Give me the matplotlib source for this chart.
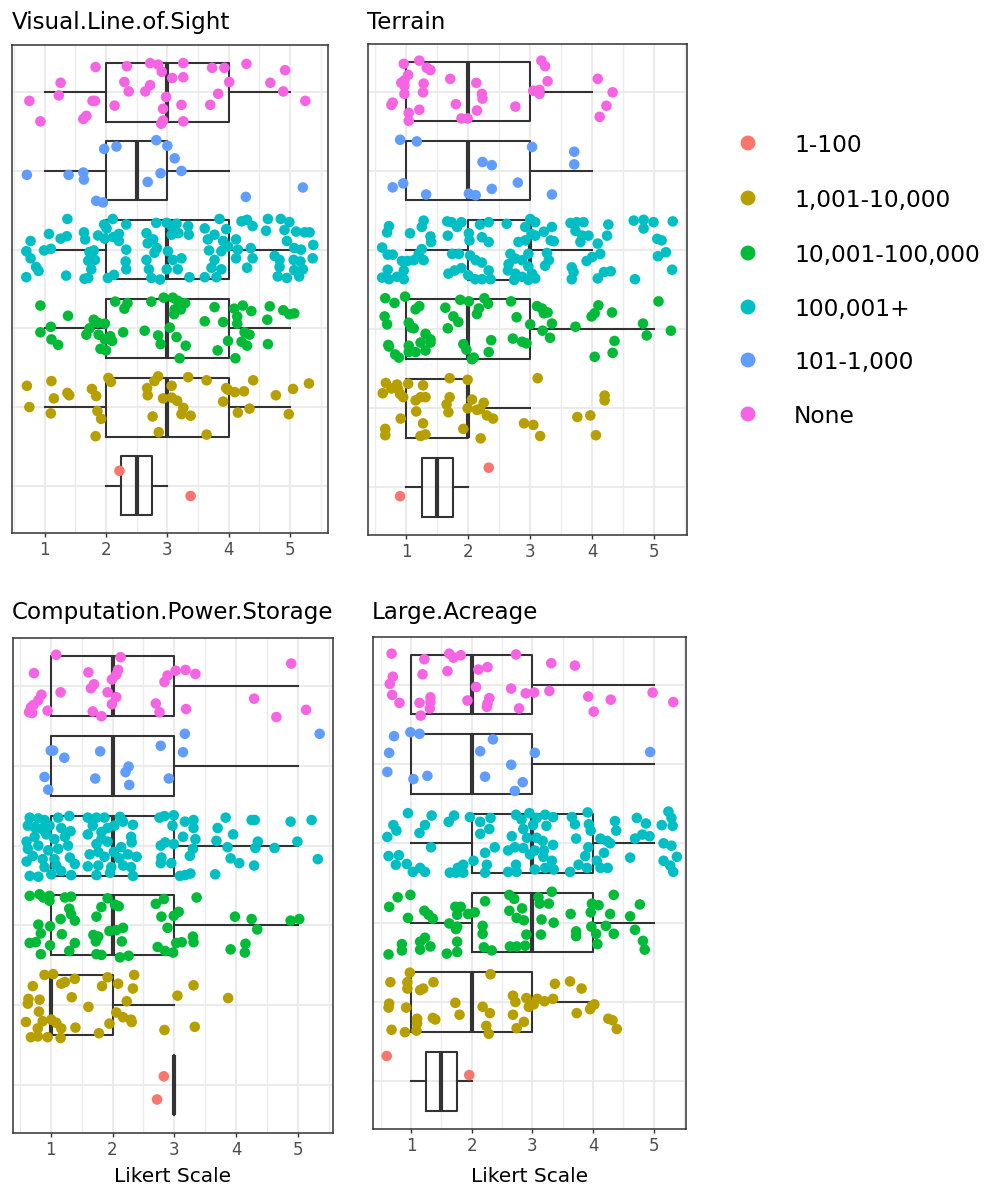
import matplotlib
matplotlib.use("Agg")
import matplotlib.pyplot as plt

W, H, DPI = 987, 1187, 100

# ---------------- data ----------------
GROUPS = ["1-100", "1,001-10,000", "10,001-100,000", "100,001+", "101-1,000", "None"]
COLORS = ["#F8766D", "#B79F00", "#00BA38", "#00BFC4", "#619CFF", "#F564E3"]
FACETS = ["Visual.Line.of.Sight", "Terrain", "Computation.Power.Storage", "Large.Acreage"]
X_TICKS = [1, 2, 3, 4, 5]
X_LABEL = "Likert Scale"

# box statistics per group (GROUPS order): [whisker low, q1, median, q3, whisker high]
VLOS_BOX = [[2, 2.25, 2.5, 2.75, 3], [1, 2, 3, 4, 5], [1, 2, 3, 4, 5], [1, 2, 3, 4, 5], [1, 2, 2.5, 3, 4], [1, 2, 3, 4, 5]]
TERR_BOX = [[1, 1.25, 1.5, 1.75, 2], [1, 1, 2, 2, 3], [1, 1, 2, 3, 5], [1, 2, 3, 3, 4], [1, 1, 2, 3, 4], [1, 1, 2, 3, 4]]
CPS_BOX = [[3, 3, 3, 3, 3], [1, 1, 1, 2, 3], [1, 1, 2, 3, 5], [1, 1, 2, 3, 5], [1, 1, 2, 3, 5], [1, 1, 2, 3, 5]]
LA_BOX = [[1, 1.25, 1.5, 1.75, 2], [1, 1, 2, 3, 4], [1, 2, 3, 4, 5], [1, 2, 3, 4, 5], [1, 1, 2, 3, 5], [1, 1, 2, 3, 5]]

# jittered points: x (Likert score + jitter) and vertical jitter around the group row
# ---- Visual.Line.of.Sight
VLOS_R1_X = [2.22, 3.38]
VLOS_R1_DY = [0.19, -0.13]
VLOS_R2_X = [0.71, 1.11, 1.15, 0.75, 1.10, 1.37, 1.40, 1.77, 1.84, 1.86, 1.92, 1.83, 2.04, 2.08, 2.67, 2.68, 2.76, 2.86,
             2.79, 2.85, 2.93, 3.07, 3.07, 3.16, 3.26, 3.23, 3.38, 3.34, 3.64, 3.64, 3.91, 3.96, 3.99, 4.10, 4.25, 4.40,
             4.15, 4.34, 4.77, 5.05, 5.31, 4.98]
VLOS_R2_DY = [0.27, 0.33, 0.11, 0.0, -0.08, 0.18, 0.15, 0.23, 0.14, -0.05, -0.15, -0.37, 0.37, 0.32, 0.24, 0.15, -0.12, -0.32,
              0.33, 0.39, 0.11, 0.27, 0.12, 0.08, -0.01, -0.09, -0.11, 0.38, 0.34, -0.35, 0.07, 0.24, 0.22, 0.19, 0.20, 0.34,
              -0.07, -0.02, 0.15, 0.23, 0.30, -0.09]
VLOS_R3_X = [0.93, 1.38, 1.10, 0.93, 1.11, 1.22, 2.15, 2.35, 2.30, 2.74, 2.94, 3.09, 3.17, 3.29, 3.12, 3.22, 3.11, 3.77,
             3.61, 3.91, 4.09, 4.23, 4.37, 4.14, 4.14, 4.67, 4.89, 4.99, 5.07, 4.63, 1.80, 1.87, 1.98, 1.73, 1.68, 1.88,
             1.98, 2.07, 2.10, 1.91, 2.00, 2.28, 2.63, 2.85, 2.89, 3.04, 3.15, 3.30, 3.20, 3.82, 3.99, 4.26, 4.34, 4.21,
             4.30, 4.64, 4.11]
VLOS_R3_DY = [0.29, 0.16, 0.02, -0.05, -0.14, -0.21, 0.34, 0.32, 0.25, 0.34, 0.39, 0.39, 0.35, 0.32, 0.24, 0.24, 0.18, 0.27,
              0.09, 0.08, 0.25, 0.29, 0.22, 0.15, 0.06, 0.28, 0.23, 0.18, 0.19, 0.11, 0.11, 0.07, 0.06, 0.0, -0.08, -0.08,
              -0.14, -0.10, -0.16, -0.26, -0.28, -0.05, -0.03, -0.09, -0.20, 0.01, -0.11, -0.22, -0.38, -0.28, -0.16, -0.05,
              -0.08, -0.17, -0.22, -0.20, -0.38]
VLOS_R4_X = [1.37, 0.77, 1.07, 1.26, 1.36, 0.70, 0.77, 0.99, 1.10, 0.86, 0.90, 0.70, 1.35,
             1.64, 1.66, 1.87, 1.97, 2.01, 2.11, 2.33, 2.12, 2.21, 2.21, 2.33, 1.73, 1.80, 1.82, 1.71, 1.76, 2.32, 2.33,
             2.03, 2.13, 1.65, 1.71, 1.98,
             2.66, 2.82, 2.68, 2.77, 2.83, 2.66, 2.79, 2.99, 3.07, 3.15, 3.34, 3.07, 3.18, 3.35, 3.01, 3.09, 3.23, 2.99,
             2.70, 2.74, 2.88, 3.17, 3.36,
             3.61, 3.85, 3.96, 3.66, 3.77, 3.91, 3.68, 3.88, 3.99, 4.12, 4.12, 4.15, 4.36, 3.77, 3.72, 3.61, 3.80, 3.88,
             4.21, 4.30, 4.39, 4.30, 4.39,
             4.64, 4.85, 4.99, 4.61, 4.91, 5.10, 5.24, 5.32, 4.95, 5.07, 5.18, 5.38, 4.75, 4.83, 5.06, 5.17, 5.37, 4.83,
             5.07, 5.21, 4.80, 4.95, 5.15]
VLOS_R4_DY = [0.39, 0.11, 0.20, 0.14, 0.17, -0.02, -0.11, -0.01, 0.01, -0.22, -0.27, -0.35, -0.33,
              0.22, 0.13, 0.18, 0.32, 0.27, 0.39, 0.32, 0.16, 0.20, 0.11, 0.0, -0.03, -0.01, -0.13, -0.14, -0.25, -0.15,
              -0.25, -0.36, -0.32, -0.37, -0.36, 0.14,
              0.21, 0.34, 0.08, 0.13, 0.02, -0.13, -0.04, 0.34, 0.30, 0.33, 0.30, 0.19, 0.21, 0.19, -0.02, -0.13, -0.11,
              -0.25, -0.25, -0.36, -0.38, -0.25, -0.35,
              0.27, 0.39, 0.26, 0.13, 0.19, 0.11, -0.01, -0.02, 0.04, 0.13, -0.11, 0.0, 0.02, -0.13, -0.23, -0.35, -0.35,
              -0.25, 0.36, 0.38, 0.30, -0.23, -0.11,
              0.39, 0.39, 0.35, 0.24, 0.25, 0.23, 0.22, 0.22, 0.11, 0.02, 0.0, 0.06, -0.08, -0.13, -0.13, -0.15, -0.11,
              -0.22, -0.26, -0.25, -0.34, -0.36, -0.34]
VLOS_R5_X = [2.82, 3.00, 1.97, 2.17, 3.12, 3.23, 2.89, 0.71, 1.39, 1.63, 1.64, 2.68, 5.21, 4.28, 1.84, 1.95]
VLOS_R5_DY = [0.39, 0.32, 0.28, 0.31, 0.16, 0.0, -0.03, -0.05, -0.05, -0.02, -0.11, -0.14, -0.21, -0.33, -0.38, -0.40]
VLOS_R6_X = [1.83, 2.34, 2.72, 2.85, 2.91, 3.26, 3.73, 3.93, 4.29, 4.92, 1.26, 2.30, 2.72, 3.08, 3.26, 4.01, 4.68, 1.23,
             0.75, 1.82, 1.78, 2.37, 2.64, 2.98, 3.83, 4.89, 5.25, 2.14, 2.93, 3.23, 3.70, 0.93, 1.63, 1.68, 2.93, 2.90,
             3.26]
VLOS_R6_DY = [0.32, 0.33, 0.37, 0.35, 0.26, 0.37, 0.31, 0.31, 0.36, 0.28, 0.12, 0.13, 0.09, 0.18, 0.19, 0.13, 0.12, -0.04,
              -0.11, -0.11, -0.11, 0.01, 0.01, -0.06, -0.02, 0.01, -0.11, -0.17, -0.21, -0.16, -0.16, -0.37, -0.34, -0.30,
              -0.36, -0.40, -0.37]

# ---- Terrain
TERR_R1_X = [2.33, 0.90]
TERR_R1_DY = [0.25, -0.11]
TERR_R2_X = [0.67, 0.62, 0.76, 0.85, 0.87, 0.90, 0.95, 1.03, 1.27, 0.91, 0.66, 0.66, 1.15, 1.23, 1.31, 1.16, 1.27, 1.23,
             1.31, 1.70, 1.70, 1.65, 1.68, 1.92, 1.99, 2.06, 1.99, 2.14, 2.19, 2.25, 2.30, 2.40, 2.20, 2.90, 3.05, 3.16,
             3.12, 3.76, 3.97, 4.20, 4.20, 4.06]
TERR_R2_DY = [0.32, 0.19, 0.25, 0.30, 0.24, 0.18, 0.14, 0.31, 0.29, -0.13, -0.26, -0.34, 0.10, 0.14, 0.14, -0.04, -0.19,
              -0.35, -0.33, 0.38, 0.14, 0.05, -0.05, -0.26, 0.36, 0.11, 0.0, -0.02, -0.01, 0.07, -0.09, -0.13, -0.38,
              -0.19, -0.21, -0.35, 0.38, -0.11, -0.09, 0.16, 0.10, -0.34]
TERR_R3_X = [0.66, 0.81, 0.98, 0.65, 0.69, 1.15, 1.21, 1.04, 1.08, 1.12, 0.71, 0.72, 0.82, 0.88, 1.04, 1.04, 1.15, 1.23,
             1.31, 1.39, 1.39, 1.31, 1.63, 1.76, 1.84, 1.67, 1.87, 2.01, 1.92, 1.97, 2.09, 2.06, 2.14, 2.17, 2.26, 2.32,
             2.37, 2.33, 2.69, 2.78, 2.72, 2.87, 2.94, 3.00, 3.11, 3.19, 3.22, 3.28, 3.35, 3.20, 3.32, 3.73, 3.99, 4.04,
             4.10, 4.32, 4.36, 4.33, 4.04, 4.82, 4.88, 5.07, 5.27]
TERR_R3_DY = [0.39, 0.33, 0.41, 0.16, 0.06, 0.25, 0.29, 0.08, 0.02, 0.01, -0.20, -0.22, -0.32, -0.36, -0.21, -0.29, -0.29,
              -0.17, -0.06, -0.13, -0.17, -0.27, 0.27, 0.16, 0.09, 0.01, 0.37, 0.35, -0.19, -0.26, -0.36, -0.38, 0.19,
              0.26, 0.39, 0.32, -0.14, -0.29, 0.35, 0.15, -0.12, -0.16, -0.18, 0.06, 0.29, 0.26, 0.20, 0.21, 0.07, -0.02,
              -0.11, 0.03, 0.16, 0.20, 0.30, 0.21, -0.15, -0.30, -0.35, 0.07, -0.08, 0.35, -0.02]
TERR_R4_X = [0.72, 0.69, 0.61, 0.70, 0.78, 0.93, 1.02, 1.12, 1.25, 1.20, 1.28, 1.06, 1.25, 1.28, 1.39, 1.40, 0.70, 0.61,
             0.72, 0.85, 0.96, 0.96,
             1.66, 1.73, 1.89, 1.82, 1.67, 2.01, 2.02, 2.19, 2.33, 2.62, 2.22, 2.33, 1.74, 1.85, 2.03, 2.12, 2.22, 1.68,
             1.78, 1.89, 2.00, 2.11, 2.22, 2.33, 2.36,
             2.81, 2.92, 3.00, 3.08, 2.92, 3.02, 3.08, 3.22, 3.35, 3.33, 3.38, 3.27, 3.30, 3.24, 2.68, 2.76, 2.65, 2.64,
             2.76, 2.87, 2.97, 2.97, 3.03, 3.08, 2.87, 2.74, 2.97,
             3.65, 3.75, 3.86, 3.73, 3.84, 3.94, 3.81, 4.26, 4.24, 4.09, 4.00, 3.91, 4.13, 3.67, 3.70, 3.67, 4.09, 4.19,
             4.30,
             4.67, 4.83, 4.99, 5.30, 4.83, 5.05, 5.12, 5.19, 5.06, 5.29, 4.69]
TERR_R4_DY = [0.30, 0.22, 0.03, -0.06, -0.06, -0.14, -0.14, -0.13, 0.01, -0.05, -0.13, 0.21, 0.29, 0.37, 0.17, 0.10, -0.25,
              -0.35, -0.37, -0.34, -0.37, -0.26,
              0.36, 0.35, 0.35, 0.29, 0.18, 0.21, 0.12, 0.32, 0.35, 0.33, 0.16, 0.10, -0.05, -0.05, -0.07, -0.13, -0.16,
              -0.30, -0.26, -0.23, -0.32, -0.37, -0.37, -0.26, -0.37,
              0.10, 0.12, 0.39, 0.35, 0.29, 0.20, 0.18, 0.23, 0.29, 0.12, 0.11, -0.04, -0.13, -0.20, -0.05, -0.11, -0.18,
              -0.26, -0.30, -0.13, -0.05, -0.21, -0.30, -0.36, -0.34, -0.38, -0.38,
              0.34, 0.35, 0.35, 0.24, 0.18, 0.18, 0.10, 0.32, 0.18, 0.08, -0.09, -0.14, -0.05, -0.22, -0.28, -0.37, -0.36,
              -0.28, -0.27,
              0.37, 0.38, 0.35, 0.36, 0.27, 0.14, 0.12, -0.03, -0.08, -0.25, -0.37]
TERR_R5_X = [0.90, 1.17, 3.03, 3.71, 3.71, 2.23, 2.38, 0.78, 0.95, 1.32, 2.01, 2.12, 2.38, 2.80, 3.35]
TERR_R5_DY = [0.39, 0.37, 0.30, 0.24, 0.08, 0.11, 0.07, -0.21, -0.16, -0.30, -0.29, -0.31, -0.23, -0.15, -0.30]
TERR_R6_X = [0.96, 1.21, 1.33, 1.39, 1.03, 0.92, 0.97, 0.97, 1.28, 1.27, 0.97, 0.78, 0.76, 1.04, 1.04, 1.21, 1.71, 1.80,
             1.89, 1.99, 2.13, 2.22, 2.23, 2.14, 2.76, 3.18, 3.24, 3.28, 3.05, 3.15, 3.15, 4.09, 4.33, 4.23, 4.12]
TERR_R6_DY = [0.35, 0.39, 0.30, 0.27, 0.21, 0.11, 0.14, 0.07, 0.10, -0.01, -0.03, -0.14, -0.17, -0.27, -0.37, -0.23, 0.16,
              -0.16, -0.34, -0.34, 0.11, -0.03, -0.09, -0.24, -0.19, 0.39, 0.32, 0.13, 0.01, 0.02, -0.03, 0.16, -0.01,
              -0.18, -0.32]

# ---- Computation.Power.Storage
CPS_R1_X = [2.83, 2.72]
CPS_R1_DY = [0.11, -0.18]
CPS_R2_X = [0.90, 1.04, 0.71, 1.17, 1.23, 1.39, 0.64, 0.63, 0.82, 1.34, 0.81, 1.61, 0.60, 0.87, 1.01, 1.09, 0.79, 0.68,
            0.79, 0.95, 1.16, 1.17, 1.40, 1.78, 1.83, 1.92, 2.09, 2.35, 2.33, 2.23, 2.06, 2.17, 2.30, 2.31, 1.95, 2.84,
            3.05, 3.31, 3.33, 3.87]
CPS_R2_DY = [0.38, 0.39, 0.24, 0.27, 0.29, 0.33, 0.08, 0.02, 0.07, 0.10, -0.08, -0.02, -0.21, -0.20, -0.18, -0.22, -0.29,
             -0.40, -0.39, -0.40, -0.41, -0.29, -0.28, -0.35, 0.24, 0.35, 0.27, 0.38, 0.21, 0.05, -0.09, -0.15, -0.18,
             -0.21, -0.23, -0.31, 0.12, 0.25, -0.27, 0.09]
CPS_R3_X = [0.66, 0.82, 0.88, 0.98, 0.98, 1.23, 1.33, 1.30, 1.33, 1.39, 1.16, 0.80, 0.99, 0.84, 1.18, 0.66, 0.76, 0.99,
            0.84, 1.30, 1.39, 1.74, 1.82, 1.92, 2.04, 2.10, 1.69, 1.77, 1.73, 1.74, 1.82, 1.95, 2.06, 2.17, 2.15, 2.12,
            2.26, 2.70, 2.83, 2.79, 2.99, 3.07, 2.89, 2.73, 2.85, 2.98, 3.03, 3.12, 3.30, 3.31, 3.36, 3.98, 4.25, 4.34,
            3.91, 4.15, 4.14, 4.88, 5.02]
CPS_R3_DY = [0.37, 0.39, 0.35, 0.37, 0.31, 0.35, 0.36, 0.21, 0.14, 0.06, 0.08, 0.01, -0.01, -0.10, -0.11, -0.22, -0.21,
             -0.25, -0.36, -0.32, -0.22, 0.11, 0.23, 0.34, 0.26, 0.24, -0.12, -0.14, -0.20, -0.36, -0.37, -0.07, -0.06,
             -0.03, -0.20, -0.40, -0.38, 0.27, 0.33, 0.11, 0.12, 0.17, -0.03, -0.27, -0.32, -0.34, -0.22, -0.21, -0.14,
             -0.21, 0.35, 0.11, 0.08, -0.05, -0.30, -0.23, -0.34, 0.06, 0.08]
CPS_R4_X = [0.66, 0.80, 0.90, 0.63, 0.74, 0.85, 0.98, 1.12, 1.30, 1.17, 1.32, 0.74, 0.61, 0.93, 1.06, 1.23, 0.63, 0.80,
            0.96, 1.12, 1.28, 0.71, 0.87, 0.61, 1.06, 1.31, 1.39, 0.90, 1.09, 0.66, 0.80, 1.01, 1.33, 1.17,
            1.60, 1.74, 1.87, 2.12, 2.17, 2.33, 1.68, 1.92, 2.03, 1.60, 1.82, 1.82, 1.74, 1.92, 2.30, 2.31, 2.14, 1.63,
            1.77, 1.87, 2.02, 2.11, 2.25, 2.39, 1.60, 1.77, 1.98, 2.17, 2.30, 1.74, 1.96, 2.33,
            2.76, 2.84, 2.99, 3.17, 3.31, 2.97, 3.31, 3.14, 3.34, 2.78, 2.85, 2.99, 3.30, 3.25, 2.79, 2.78, 2.95, 3.09,
            3.17, 3.26,
            3.70, 3.83, 3.95, 3.68, 3.86, 3.91, 4.05, 3.66, 4.25, 4.30, 4.35, 4.31, 4.29, 4.62,
            4.88, 5.22, 4.99, 5.32]
CPS_R4_DY = [0.35, 0.34, 0.32, 0.25, 0.23, 0.21, 0.25, 0.35, 0.37, 0.22, 0.18, 0.11, 0.05, 0.14, 0.08, 0.11, -0.04, 0.0,
             -0.06, -0.04, 0.0, -0.13, -0.17, -0.20, -0.17, -0.15, -0.23, -0.27, -0.25, -0.38, -0.39, -0.36, -0.37, -0.32,
             0.35, 0.35, 0.35, 0.36, 0.30, 0.26, 0.25, 0.22, 0.25, 0.14, 0.17, 0.08, 0.02, 0.05, 0.11, 0.04, -0.02, -0.11,
             -0.08, -0.14, -0.08, -0.16, -0.11, -0.14, -0.26, -0.25, -0.27, -0.25, -0.27, -0.37, -0.34, -0.38,
             0.35, 0.37, 0.38, 0.30, 0.32, 0.25, 0.22, 0.11, 0.08, 0.0, 0.04, 0.02, -0.04, -0.13, -0.15, -0.22, -0.22,
             -0.38, -0.37, -0.35,
             0.22, 0.35, 0.14, 0.06, -0.02, -0.16, -0.22, -0.36, 0.32, 0.32, 0.05, -0.03, -0.25, -0.03,
             0.30, 0.32, 0.05, -0.17]
CPS_R5_X = [1.00, 1.04, 1.22, 1.80, 0.90, 0.96, 1.72, 2.26, 2.21, 2.27, 2.78, 2.91, 3.17, 3.14, 5.35]
CPS_R5_DY = [0.19, 0.19, 0.10, 0.18, -0.14, -0.30, -0.16, -0.01, -0.08, -0.24, 0.25, -0.16, 0.40, 0.17, 0.40]
CPS_R6_X = [1.09, 2.13, 0.73, 1.61, 2.09, 2.06, 1.99, 1.70, 1.65, 1.16, 0.85, 0.80, 0.72, 0.68, 0.65, 0.70, 0.95, 1.92,
            2.06, 1.99, 1.68, 1.82, 2.70, 2.76, 2.84, 2.89, 3.02, 3.18, 3.34, 3.19, 4.29, 4.65, 4.89, 5.13]
CPS_R6_DY = [0.39, 0.36, 0.16, 0.17, 0.20, 0.14, 0.08, 0.02, -0.03, -0.08, -0.11, -0.18, -0.24, -0.27, -0.33, -0.34, -0.31,
             -0.08, -0.14, -0.23, -0.32, -0.38, -0.22, -0.33, 0.05, 0.13, 0.19, 0.20, 0.15, -0.29, -0.16, -0.39, 0.28,
             -0.30]

# ---- Large.Acreage
LA_R1_X = [0.60, 1.96]
LA_R1_DY = [0.32, 0.08]
LA_R2_X = [0.98, 0.66, 0.94, 0.94, 1.15, 1.20, 1.37, 0.64, 0.63, 0.92, 0.68, 0.90, 1.10, 1.10, 1.09, 1.36, 1.40, 1.73,
           1.80, 2.18, 2.30, 2.24, 2.28, 2.31, 2.68, 2.72, 2.68, 2.86, 2.74, 2.90, 2.94, 3.02, 3.08, 3.20, 3.34, 3.37,
           3.62, 3.81, 3.73, 3.95, 3.98, 4.02, 4.25, 4.32, 4.39]
LA_R2_DY = [0.37, 0.25, 0.25, 0.17, 0.15, 0.17, 0.25, -0.02, -0.07, -0.07, -0.35, -0.38, -0.21, -0.27, -0.36, -0.20, -0.22,
            -0.01, -0.16, -0.06, -0.14, -0.30, -0.40, 0.35, 0.08, 0.0, -0.16, -0.25, -0.33, 0.05, -0.06, -0.03, 0.04,
            0.01, 0.04, 0.23, 0.26, 0.17, -0.14, -0.09, -0.05, -0.03, -0.21, -0.23, -0.34]
LA_R3_X = [0.64, 0.78, 0.99, 0.95, 0.63, 0.85, 0.85, 1.15, 1.23, 1.32, 1.15, 1.22, 1.29, 1.36, 1.63, 1.59, 1.73, 1.82,
           1.76, 1.76, 1.74, 1.76, 1.76, 1.94, 2.05, 2.22, 2.18, 2.18, 2.20, 2.33, 2.62, 2.70, 2.62, 2.83, 2.74, 2.86,
           2.90, 2.63, 2.74, 2.88, 3.10, 3.12, 3.27, 3.32, 3.15, 3.35, 3.14, 3.63, 3.72, 3.72, 3.98, 4.09, 3.96, 3.97,
           4.05, 4.07, 4.21, 4.28, 4.34, 4.34, 4.61, 4.69, 4.77, 4.82, 4.85]
LA_R3_DY = [0.20, 0.32, 0.35, 0.06, -0.40, -0.27, -0.35, -0.24, -0.19, -0.30, -0.34, 0.15, 0.10, 0.05, -0.01, -0.39, 0.20,
            0.20, 0.10, -0.05, -0.08, -0.24, -0.37, 0.11, 0.13, 0.27, -0.04, -0.14, -0.31, -0.35, 0.35, 0.30, 0.15, 0.18,
            0.06, 0.03, -0.15, -0.30, -0.30, -0.29, 0.32, 0.24, 0.24, 0.39, 0.04, 0.0, -0.15, 0.11, -0.11, -0.17, 0.24,
            0.22, 0.13, -0.05, -0.14, -0.27, -0.04, 0.11, 0.35, -0.14, 0.08, -0.09, 0.23, -0.23, -0.34]
LA_R4_X = [0.95, 0.71, 0.76, 0.61, 1.23, 1.34, 1.14, 1.33, 0.63, 0.80, 0.75, 0.93, 1.03, 1.15, 1.23,
           1.62, 1.71, 1.97, 2.14, 2.31, 2.14, 2.29, 2.38, 2.22, 2.25, 2.03, 1.86, 1.77, 1.64, 1.74, 1.86, 2.22,
           2.66, 2.73, 2.82, 2.95, 3.07, 3.21, 3.34, 2.85, 3.01, 3.23, 2.91, 3.07, 3.17, 3.34, 2.60, 2.71, 2.85, 2.96,
           3.04, 3.19, 3.18, 3.32, 2.60, 2.74, 2.73, 3.04, 3.21, 3.35,
           3.65, 3.70, 3.72, 3.91, 3.93, 3.96, 3.92, 3.87, 4.12, 4.23, 4.18, 4.36, 4.38, 4.28, 3.62, 3.76, 3.90, 4.06,
           4.12, 4.24,
           4.61, 4.72, 4.87, 4.81, 4.69, 4.93, 5.13, 5.24, 5.29, 5.31, 5.16, 5.29, 5.16, 5.38, 5.27, 5.32]
LA_R4_DY = [0.38, 0.23, 0.16, 0.08, 0.23, 0.35, 0.13, -0.05, -0.16, -0.15, -0.27, -0.26, -0.36, -0.31, -0.36,
            0.27, 0.35, 0.33, 0.27, 0.32, 0.12, 0.18, -0.05, -0.12, -0.27, -0.22, -0.27, -0.31, -0.37, -0.37, -0.37, -0.37,
            0.09, 0.36, 0.30, 0.38, 0.32, 0.36, 0.33, 0.18, 0.23, 0.22, 0.07, 0.07, 0.03, -0.02, -0.09, -0.05, -0.06,
            -0.14, -0.09, -0.09, -0.17, -0.22, -0.36, -0.36, -0.27, -0.33, -0.31, -0.33,
            0.33, 0.24, 0.06, 0.39, 0.24, 0.16, -0.05, -0.16, 0.06, 0.03, -0.12, 0.28, 0.16, 0.0, -0.36, -0.27, -0.31,
            -0.22, -0.31, -0.31,
            -0.18, 0.32, 0.25, 0.11, 0.06, 0.09, 0.23, 0.40, 0.32, 0.22, 0.0, -0.03, -0.22, -0.17, -0.28, -0.36]
LA_R5_X = [0.72, 0.99, 1.14, 0.64, 0.61, 1.04, 1.27, 2.35, 2.14, 2.22, 2.65, 2.84, 2.71, 3.04, 4.94]
LA_R5_DY = [0.35, 0.40, 0.38, 0.14, -0.10, -0.19, -0.15, 0.31, 0.16, -0.16, -0.01, -0.23, -0.34, 0.14, 0.15]
LA_R6_X = [0.68, 1.22, 1.63, 1.70, 1.82, 2.73, 3.31, 3.70, 0.70, 0.65, 1.19, 1.60, 2.11, 2.26, 0.69, 0.81, 1.14, 1.16,
           1.32, 1.32, 1.31, 1.93, 2.07, 2.29, 2.26, 2.25, 2.65, 2.78, 2.89, 3.03, 3.28, 3.92, 4.01, 4.29, 4.98, 5.32]
LA_R6_DY = [0.39, 0.32, 0.39, 0.34, 0.37, 0.38, 0.27, 0.24, 0.10, 0.01, 0.13, 0.17, 0.19, 0.22, -0.13, -0.23, -0.23, -0.39,
            -0.16, -0.22, -0.30, -0.20, -0.03, -0.17, -0.24, -0.28, -0.05, -0.30, -0.11, -0.10, -0.08, -0.15, -0.34,
            -0.19, -0.10, -0.22]

# ---------------- assemble ----------------
FACET_POINTS = [
    [(VLOS_R1_X, VLOS_R1_DY), (VLOS_R2_X, VLOS_R2_DY), (VLOS_R3_X, VLOS_R3_DY),
     (VLOS_R4_X, VLOS_R4_DY), (VLOS_R5_X, VLOS_R5_DY), (VLOS_R6_X, VLOS_R6_DY)],
    [(TERR_R1_X, TERR_R1_DY), (TERR_R2_X, TERR_R2_DY), (TERR_R3_X, TERR_R3_DY),
     (TERR_R4_X, TERR_R4_DY), (TERR_R5_X, TERR_R5_DY), (TERR_R6_X, TERR_R6_DY)],
    [(CPS_R1_X, CPS_R1_DY), (CPS_R2_X, CPS_R2_DY), (CPS_R3_X, CPS_R3_DY),
     (CPS_R4_X, CPS_R4_DY), (CPS_R5_X, CPS_R5_DY), (CPS_R6_X, CPS_R6_DY)],
    [(LA_R1_X, LA_R1_DY), (LA_R2_X, LA_R2_DY), (LA_R3_X, LA_R3_DY),
     (LA_R4_X, LA_R4_DY), (LA_R5_X, LA_R5_DY), (LA_R6_X, LA_R6_DY)],
]
FACET_BOXES = [VLOS_BOX, TERR_BOX, CPS_BOX, LA_BOX]

# layout (pixels): panel left, right, top, bottom and x-limits
PANELS = [(12, 328, 45, 533), (368, 687, 44, 535), (13, 333, 638, 1133), (373, 686, 637, 1129)]
XLIMS = [(0.467, 5.62), (0.382, 5.53), (0.39, 5.566), (0.374, 5.53)]
TITLE_POS = [(12, 29), (367, 29), (12, 619), (372, 619)]

DARK = "#333333"
GRID = "#EBEBEB"

plt.rcParams["font.family"] = ["DejaVu Sans"]
fig = plt.figure(figsize=(W / DPI, H / DPI), dpi=DPI, facecolor="white")

for k in range(4):
    l, r, t, b = PANELS[k]
    ax = fig.add_axes([l / W, 1 - b / H, (r - l) / W, (b - t) / H])
    ax.set_facecolor("white")
    ax.set_xlim(*XLIMS[k])
    ax.set_ylim(0.4, 6.6)
    ax.set_xticks(X_TICKS)
    ax.set_xticks([0.5, 1.5, 2.5, 3.5, 4.5, 5.5], minor=True)
    ax.set_yticks(range(1, 7))
    ax.set_yticklabels([])
    ax.tick_params(axis="y", length=0)
    ax.tick_params(axis="x", which="major", length=3.0, width=1.0, color=DARK,
                   labelsize=12, labelcolor="#4D4D4D", pad=3)
    ax.tick_params(axis="x", which="minor", length=0)
    ax.grid(True, which="major", color=GRID, lw=1.5, zorder=0)
    ax.grid(True, which="minor", axis="x", color=GRID, lw=1.0, zorder=0)
    ax.set_axisbelow(True)
    for sp in ax.spines.values():
        sp.set_color(DARK)
        sp.set_linewidth(1.1)

    stats = []
    for g, (lo, q1, med, q3, hi) in enumerate(FACET_BOXES[k]):
        stats.append(dict(whislo=lo, q1=q1, med=med, q3=q3, whishi=hi, fliers=[], label=GROUPS[g]))
    common = dict(positions=list(range(1, 7)), widths=0.75, showfliers=False, showcaps=False,
                  patch_artist=False,
                  boxprops=dict(color=DARK, lw=1.5),
                  whiskerprops=dict(color=DARK, lw=1.5),
                  medianprops=dict(color=DARK, lw=3.0, solid_capstyle="butt"),
                  manage_ticks=False, zorder=2)
    try:
        ax.bxp(stats, orientation="horizontal", **common)
    except TypeError:
        ax.bxp(stats, vert=False, **common)

    for g in range(6):
        xs, dys = FACET_POINTS[k][g]
        ys = [g + 1 + d for d in dys]
        ax.scatter(xs, ys, s=58, color=COLORS[g], edgecolors="none", zorder=3)

    tx, ty = TITLE_POS[k]
    fig.text(tx / W, 1 - ty / H, FACETS[k], fontsize=16.6, color="black", ha="left", va="baseline")
    if k >= 2:
        fig.text(((l + r) / 2) / W, 1 - 1182 / H, X_LABEL, fontsize=14.5, color="black",
                 ha="center", va="baseline")

# legend drawn in a pixel-space overlay
lg = fig.add_axes([0, 0, 1, 1], facecolor="none")
lg.set_xlim(0, W)
lg.set_ylim(H, 0)
lg.axis("off")
LEG_Y = [143, 198, 253, 307, 360, 414]
for g in range(6):
    lg.scatter([748], [LEG_Y[g]], s=115, color=COLORS[g], edgecolors="none")
    lg.text(794, LEG_Y[g], GROUPS[g], fontsize=16.8, color="black", ha="left", va="center_baseline")

fig.savefig("out.png", dpi=DPI, facecolor="white")
